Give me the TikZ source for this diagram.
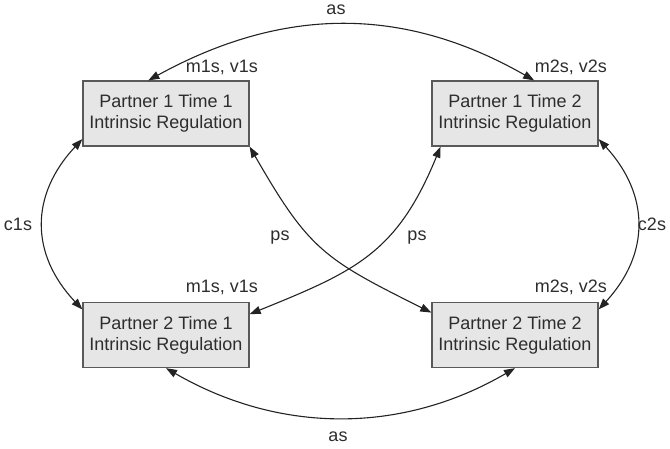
\documentclass[tikz,border=0pt]{standalone}
\usepackage{fontspec}
\setmainfont{Liberation Sans}
\usetikzlibrary{arrows.meta}
\definecolor{boxgray}{RGB}{230,230,230}
\definecolor{linegray}{RGB}{35,35,35}
\definecolor{textgray}{RGB}{45,45,45}

\begin{document}
\begin{tikzpicture}[x=1pt,y=-1pt,
  every node/.style={text=textgray,font=\fontsize{18}{21}\selectfont},
  var/.style={draw=black!65,fill=boxgray,line width=1.3pt,minimum width=166pt,minimum height=65pt,align=center,inner sep=0pt},
  cov/.style={<->,>={Triangle[length=11pt,width=8pt]},line width=1.1pt,draw=linegray}]
\useasboundingbox (0,0) rectangle (670,448);

% the four measures
\node[var] (p1t1) at (166,113.5) {Partner 1 Time 1\\Intrinsic Regulation};
\node[var] (p1t2) at (515,113.5) {Partner 1 Time 2\\Intrinsic Regulation};
\node[var] (p2t1) at (166,335) {Partner 2 Time 1\\Intrinsic Regulation};
\node[var] (p2t2) at (515,335) {Partner 2 Time 2\\Intrinsic Regulation};

% means and variances
\node (mv11) at (222,67) {m1s, v1s};
\node (mv12) at (571,67) {m2s, v2s};
\node (mv21) at (222,287) {m1s, v1s};
\node (mv22) at (571,287) {m2s, v2s};

% covariances
\draw[cov] (p1t1.118) .. controls (284,6) and (404,6) .. (p1t2.60);
\draw[cov] (p2t1.south) .. controls (280,434) and (402,434) .. (p2t2.south);
\draw[cov] (p1t1.197) .. controls (30,195) and (30,254) .. (p2t1.163);
\draw[cov] (p1t2.-17) .. controls (650,195) and (650,254) .. (p2t2.17);
\draw[cov] (p1t1.south east) .. controls (309,250) and (324,259) .. (p2t2.165);
\draw[cov] (p1t2.204) .. controls (397,253) and (356,271) .. (p2t1.14);

\node (as1) at (336,10) {as};
\node (as2) at (338,437) {as};
\node (c1s) at (18,224) {c1s};
\node (c2s) at (652,224) {c2s};
\node (ps1) at (280,238) {ps};
\node (ps2) at (417,238) {ps};
\end{tikzpicture}
\end{document}
